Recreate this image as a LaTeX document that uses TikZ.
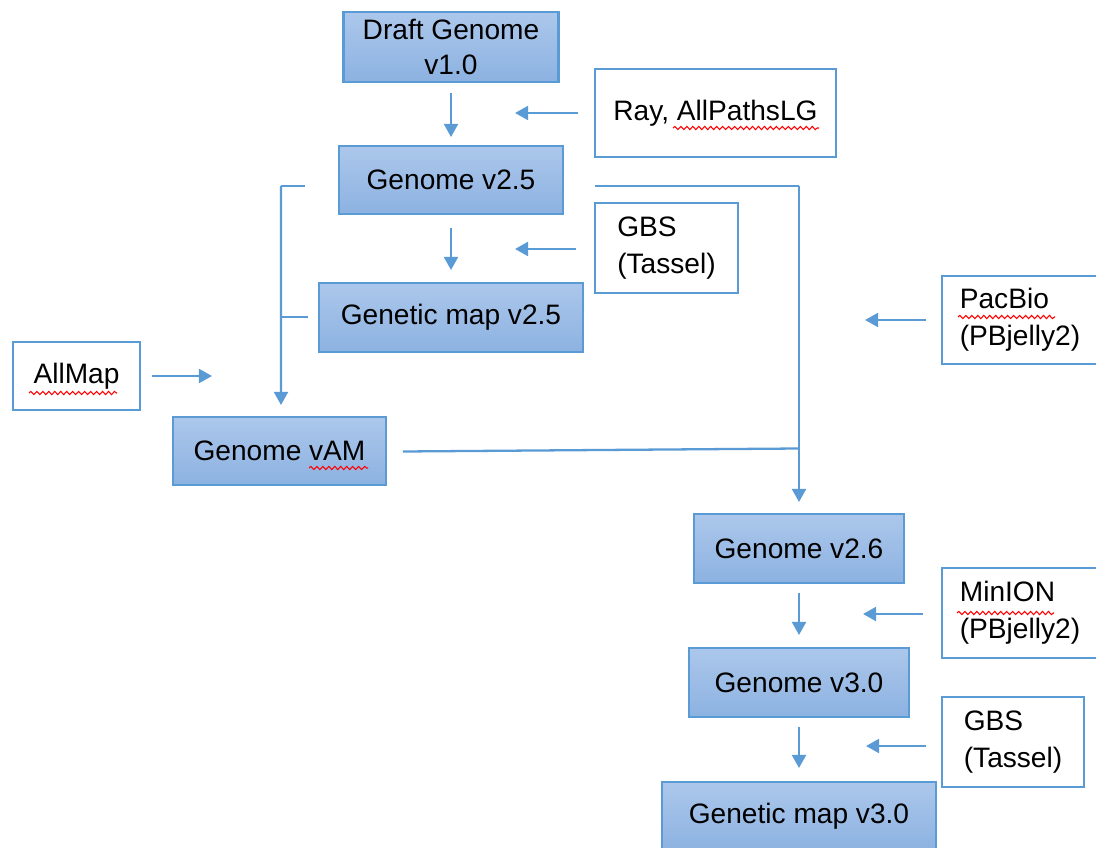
\documentclass[tikz,border=0pt]{standalone}
\usepackage{fontspec}
\setmainfont{Liberation Sans}
\usetikzlibrary{arrows.meta,calc,decorations.pathmorphing}
\definecolor{bd}{RGB}{91,155,213}
\definecolor{ftop}{RGB}{172,199,235}
\definecolor{fbot}{RGB}{140,178,225}
\tikzset{
  x=0.02cm, y=-0.02cm,
  box/.style={draw=bd, line width=1.3pt, inner sep=0pt, outer sep=0pt, align=center,
    font=\fontsize{16}{19.5}\selectfont},
  bluebox/.style={box, top color=ftop, bottom color=fbot},
  whitebox/.style={box, fill=white, align=left, font=\fontsize{16}{21}\selectfont},
  arr/.style={draw=bd, line width=1.3pt, -{Triangle[length=7.5pt,width=8pt]}},
  ln/.style={draw=bd, line width=1.3pt},
  squig/.style={draw=red, line width=0.6pt, decorate, decoration={snake, segment length=3.4pt, amplitude=0.9pt}}
}
\begin{document}
\begin{tikzpicture}
\clip (0,0) rectangle (1096,848);
\fill[white] (0,0) rectangle (1096,848);
% nodes
\node[bluebox, minimum width=4.30cm, minimum height=1.40cm] (d1) at (451,47) {Draft Genome\\v1.0};
\node[whitebox, minimum width=4.82cm, minimum height=1.76cm] (ray) at (715.5,113) {Ray, AllPathsLG};
\node[bluebox, minimum width=4.48cm, minimum height=1.36cm] (g25) at (451,180) {Genome v2.5};
\node[whitebox, minimum width=2.86cm, minimum height=1.80cm] (gbs1) at (666.5,248) {GBS\\(Tassel)};
\node[bluebox, minimum width=5.28cm, minimum height=1.38cm] (gm25) at (451,317.5) {Genetic map v2.5};
\node[whitebox, minimum width=2.54cm, minimum height=1.36cm] (allmap) at (76.5,376) {AllMap};
\node[bluebox, minimum width=4.26cm, minimum height=1.36cm] (vam) at (279.5,451) {Genome vAM};
\node[whitebox, minimum width=3.12cm, minimum height=1.76cm] (pacbio) at (1020,320) {PacBio\\(PBjelly2)};
\node[bluebox, minimum width=4.20cm, minimum height=1.38cm] (g26) at (799,548.5) {Genome v2.6};
\node[whitebox, minimum width=3.12cm, minimum height=1.80cm] (minion) at (1020,613) {MinION\\(PBjelly2)};
\node[bluebox, minimum width=4.40cm, minimum height=1.38cm] (g30) at (799,682.5) {Genome v3.0};
\node[whitebox, minimum width=2.84cm, minimum height=1.80cm] (gbs2) at (1013,742) {GBS\\(Tassel)};
\node[bluebox, minimum width=5.48cm, minimum height=1.38cm] (gm30) at (799,816.5) {Genetic map v3.0};
% free-end coordinates
\coordinate (rayend) at ($(ray.west)+(-80,0)$);
\coordinate (gbs1end) at ($(gbs1.west)+(-80,1)$);
\coordinate (allmapend) at ($(allmap.east)+(72,0)$);
\coordinate (pacend) at ($(pacbio.west)+(-77,0)$);
\coordinate (minend) at ($(minion.west)+(-79,1)$);
\coordinate (gbs2end) at ($(gbs2.west)+(-76,4)$);
\coordinate (lstubA) at (305,186);
\coordinate (lcornA) at (281,186);
\coordinate (lstubB) at (308,317);
\coordinate (lstubBc) at (281,317);
\coordinate (rstart) at (595,186);
\coordinate (rcorn) at (799,186);
\coordinate (rjoin) at (799,448.5);
% vertical chain arrows
\draw[arr] ($(d1.south)+(0,11)$) -- ($(g25.north)+(0,-9)$);
\draw[arr] ($(g25.south)+(0,14)$) -- ($(gm25.north)+(0,-13)$);
\draw[arr] ($(g26.south)+(0,10)$) -- ($(g30.north)+(0,-13)$);
\draw[arr] ($(g30.south)+(0,10)$) -- ($(gm30.north)+(0,-14)$);
% side inputs
\draw[arr] ($(ray.west)+(-17,0)$) -- (rayend);
\draw[arr] ($(gbs1.west)+(-19,1)$) -- (gbs1end);
\draw[arr] ($(allmap.east)+(12,0)$) -- (allmapend);
\draw[arr] ($(pacbio.west)+(-16,0)$) -- (pacend);
\draw[arr] ($(minion.west)+(-19,1)$) -- (minend);
\draw[arr] ($(gbs2.west)+(-16,4)$) -- (gbs2end);
% left bracket
\draw[ln] (lstubA) -- (lcornA);
\draw[ln] (lstubB) -- (lstubBc);
\draw[arr] (lcornA) -- ($(vam.north)+(1.5,-12)$);
% right path
\draw[ln] (rstart) -- (rcorn);
\draw[arr] (rcorn) -- ($(g26.north)+(0,-12)$);
\draw[ln] ($(vam.east)+(17,0.5)$) -- (rjoin);
% spell-check squiggles
\draw[squig] (673,128) -- (819,128);
\draw[squig] (29,393) -- (117,393);
\draw[squig] (309,468) -- (368,468);
\draw[squig] (958,317) -- (1055,317);
\draw[squig] (957,613) -- (1054,613);
\end{tikzpicture}
\end{document}
